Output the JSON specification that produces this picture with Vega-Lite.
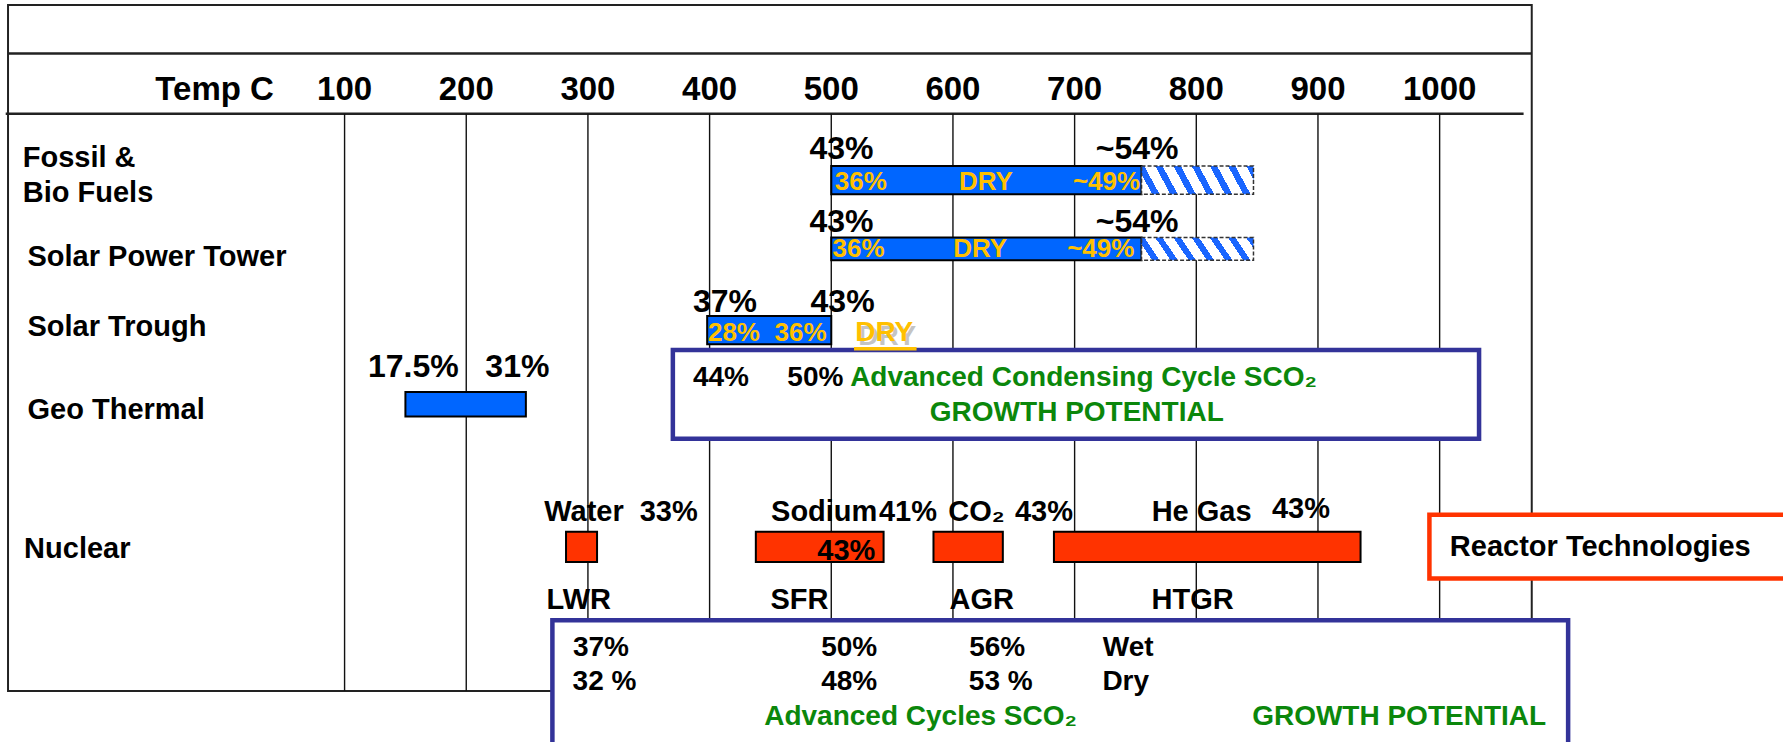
{
  "$schema": "https://vega.github.io/schema/vega-lite/v6.json",
  "width": 1783,
  "height": 742,
  "autosize": {"type": "fit", "contains": "padding"},
  "padding": 0,
  "background": "white",
  "config": {"view": {"stroke": null}},
  "datasets": {
    "frame": [{"temp": -176.6, "temp2": 1075.7, "row": -1.363, "row2": 7.923}],
    "hlines": [
      {"temp": -176.6, "temp2": 1075.7, "row": -0.708},
      {"temp": -178.5, "temp2": 1069, "row": 0.108}
    ],
    "grid": [
      {"temp": 100, "row": 0.108, "row2": 7.923},
      {"temp": 200, "row": 0.108, "row2": 7.923},
      {"temp": 300, "row": 0.108, "row2": 7.923},
      {"temp": 400, "row": 0.108, "row2": 7.923},
      {"temp": 500, "row": 0.108, "row2": 7.923},
      {"temp": 600, "row": 0.108, "row2": 7.923},
      {"temp": 700, "row": 0.108, "row2": 7.923},
      {"temp": 800, "row": 0.108, "row2": 7.923},
      {"temp": 900, "row": 0.108, "row2": 7.923},
      {"temp": 1000, "row": 0.108, "row2": 7.923}
    ],
    "bars": [
      {"source": "Fossil & Bio Fuels", "group": "Thermal", "temp": 500, "temp2": 755, "row": 0.815, "row2": 1.2},
      {"source": "Solar Power Tower", "group": "Thermal", "temp": 500, "temp2": 755, "row": 1.785, "row2": 2.092},
      {"source": "Solar Trough", "group": "Thermal", "temp": 398, "temp2": 500, "row": 2.846, "row2": 3.231},
      {"source": "Geo Thermal", "group": "Thermal", "temp": 150, "temp2": 249, "row": 3.877, "row2": 4.208},
      {"source": "LWR", "group": "Nuclear", "temp": 282, "temp2": 307.5, "row": 5.769, "row2": 6.177},
      {"source": "SFR", "group": "Nuclear", "temp": 438, "temp2": 543, "row": 5.769, "row2": 6.177},
      {"source": "AGR", "group": "Nuclear", "temp": 584, "temp2": 641, "row": 5.769, "row2": 6.177},
      {"source": "HTGR", "group": "Nuclear", "temp": 683, "temp2": 935, "row": 5.769, "row2": 6.177}
    ],
    "growth": [
      {"source": "Fossil & Bio Fuels", "temp": 755, "temp2": 847, "row": 0.815, "row2": 1.2},
      {"source": "Solar Power Tower", "temp": 755, "temp2": 847, "row": 1.785, "row2": 2.092}
    ],
    "boxes": [
      {"kind": "sco2", "temp": 369.8, "temp2": 1032.4, "row": 3.308, "row2": 4.508},
      {"kind": "sco2", "temp": 270.8, "temp2": 1105.6, "row": 6.966, "row2": 9.5},
      {"kind": "reactor", "temp": 991.6, "temp2": 1330, "row": 5.538, "row2": 6.4}
    ],
    "ticks": [
      {"label": "Temp C", "temp": -6.8, "row": -0.215},
      {"label": "100", "temp": 100, "row": -0.215},
      {"label": "200", "temp": 200, "row": -0.215},
      {"label": "300", "temp": 300, "row": -0.215},
      {"label": "400", "temp": 400, "row": -0.215},
      {"label": "500", "temp": 500, "row": -0.215},
      {"label": "600", "temp": 600, "row": -0.215},
      {"label": "700", "temp": 700, "row": -0.215},
      {"label": "800", "temp": 800, "row": -0.215},
      {"label": "900", "temp": 900, "row": -0.215},
      {"label": "1000", "temp": 1000, "row": -0.215}
    ],
    "rowLabels": [
      {"label": "Fossil &", "temp": -164.5, "row": 0.708},
      {"label": "Bio Fuels", "temp": -164.5, "row": 1.18},
      {"label": "Solar Power Tower", "temp": -160.6, "row": 2.053},
      {"label": "Solar Trough", "temp": -160.6, "row": 3.0},
      {"label": "Geo Thermal", "temp": -160.6, "row": 4.117},
      {"label": "Nuclear", "temp": -163.4, "row": 5.997}
    ],
    "pcts": [
      {"label": "43%", "temp": 508.4, "row": 0.585},
      {"label": "~54%", "temp": 751.4, "row": 0.585},
      {"label": "43%", "temp": 508.4, "row": 1.58},
      {"label": "~54%", "temp": 751.4, "row": 1.58},
      {"label": "37%", "temp": 412.6, "row": 2.655},
      {"label": "43%", "temp": 509.3, "row": 2.655},
      {"label": "17.5%", "temp": 156.5, "row": 3.534},
      {"label": "31%", "temp": 242, "row": 3.534}
    ],
    "inbar": [
      {"label": "36%", "temp": 524.3, "row": 1.031},
      {"label": "DRY", "temp": 627.1, "row": 1.031},
      {"label": "~49%", "temp": 726.2, "row": 1.031},
      {"label": "36%", "temp": 522.4, "row": 1.938},
      {"label": "DRY", "temp": 622.4, "row": 1.938},
      {"label": "~49%", "temp": 721.5, "row": 1.938},
      {"label": "28%", "temp": 420, "row": 3.077},
      {"label": "36%", "temp": 474.8, "row": 3.077}
    ],
    "dry": [{"label": "DRY", "temp": 543.5, "row": 3.077}],
    "dryline": [{"temp": 518.7, "temp2": 570.1, "row": 3.292}],
    "boxNums": [
      {"label": "44%", "temp": 409.3, "row": 3.685},
      {"label": "50%", "temp": 486.9, "row": 3.685},
      {"label": "37%", "temp": 310.7, "row": 7.338},
      {"label": "32 %", "temp": 313.6, "row": 7.8},
      {"label": "50%", "temp": 514.7, "row": 7.338},
      {"label": "48%", "temp": 514.7, "row": 7.8},
      {"label": "56%", "temp": 636.4, "row": 7.338},
      {"label": "53 %", "temp": 639.3, "row": 7.8},
      {"label": "Wet", "temp": 744, "row": 7.338},
      {"label": "Dry", "temp": 742, "row": 7.8}
    ],
    "green": [
      {"label": "Advanced Condensing Cycle SCO₂", "temp": 707.3, "row": 3.692},
      {"label": "GROWTH POTENTIAL", "temp": 701.8, "row": 4.154},
      {"label": "Advanced Cycles SCO₂", "temp": 573.4, "row": 8.27},
      {"label": "GROWTH POTENTIAL", "temp": 966.7, "row": 8.27}
    ],
    "nuclearLabels": [
      {"label": "Water", "temp": 296.8, "row": 5.505},
      {"label": "33%", "temp": 366.4, "row": 5.505},
      {"label": "Sodium", "temp": 494.2, "row": 5.505},
      {"label": "41%", "temp": 563, "row": 5.505},
      {"label": "CO₂", "temp": 619.4, "row": 5.505},
      {"label": "43%", "temp": 674.8, "row": 5.505},
      {"label": "He Gas", "temp": 804.4, "row": 5.505},
      {"label": "43%", "temp": 886, "row": 5.455},
      {"label": "43%", "temp": 512.4, "row": 6.034},
      {"label": "LWR", "temp": 292.5, "row": 6.686},
      {"label": "SFR", "temp": 473.8, "row": 6.686},
      {"label": "AGR", "temp": 623.7, "row": 6.686},
      {"label": "HTGR", "temp": 797, "row": 6.686}
    ],
    "reactor": [{"label": "Reactor Technologies", "temp": 1008.4, "row": 5.977}]
  },
  "encoding": {
    "x": {"field": "temp", "type": "quantitative", "scale": {"domain": [-183.2, 1282.2], "nice": false, "zero": false}, "axis": null},
    "y": {"field": "row", "type": "quantitative", "scale": {"domain": [-1.431, 8.615], "nice": false, "zero": false, "reverse": true}, "axis": null}
  },
  "layer": [
    {
      "data": {"name": "frame"},
      "mark": {"type": "rect", "fillOpacity": 0, "stroke": "#222222", "strokeWidth": 2},
      "encoding": {"x2": {"field": "temp2"}, "y2": {"field": "row2"}}
    },
    {
      "data": {"name": "hlines"},
      "mark": {"type": "rule", "color": "#222222", "strokeWidth": 2.5},
      "encoding": {"x2": {"field": "temp2"}}
    },
    {
      "data": {"name": "grid"},
      "mark": {"type": "rule", "color": "#111111", "strokeWidth": 1.4},
      "encoding": {"y2": {"field": "row2"}}
    },
    {
      "data": {"name": "bars"},
      "mark": {"type": "rect", "stroke": "#000000", "strokeWidth": 2},
      "encoding": {
        "x2": {"field": "temp2"},
        "y2": {"field": "row2"},
        "color": {"field": "group", "type": "nominal", "scale": {"domain": ["Thermal", "Nuclear"], "range": ["#0066ff", "#ff3300"]}, "legend": null}
      }
    },
    {
      "data": {"name": "growth"},
      "mark": {
        "type": "rect",
        "stroke": "#333333",
        "strokeWidth": 1.5,
        "strokeDash": [4, 2],
        "fill": {
          "gradient": "linear",
          "x1": -0.07, "y1": 0.5, "x2": 1.07, "y2": 0.344,
          "stops": [
            {"offset": 0, "color": "#ffffff"},
            {"offset": 0.084, "color": "#ffffff"},
            {"offset": 0.084, "color": "#1a66ff"},
            {"offset": 0.14, "color": "#1a66ff"},
            {"offset": 0.14, "color": "#ffffff"},
            {"offset": 0.224, "color": "#ffffff"},
            {"offset": 0.224, "color": "#1a66ff"},
            {"offset": 0.28, "color": "#1a66ff"},
            {"offset": 0.28, "color": "#ffffff"},
            {"offset": 0.364, "color": "#ffffff"},
            {"offset": 0.364, "color": "#1a66ff"},
            {"offset": 0.42, "color": "#1a66ff"},
            {"offset": 0.42, "color": "#ffffff"},
            {"offset": 0.504, "color": "#ffffff"},
            {"offset": 0.504, "color": "#1a66ff"},
            {"offset": 0.56, "color": "#1a66ff"},
            {"offset": 0.56, "color": "#ffffff"},
            {"offset": 0.644, "color": "#ffffff"},
            {"offset": 0.644, "color": "#1a66ff"},
            {"offset": 0.7, "color": "#1a66ff"},
            {"offset": 0.7, "color": "#ffffff"},
            {"offset": 0.784, "color": "#ffffff"},
            {"offset": 0.784, "color": "#1a66ff"},
            {"offset": 0.84, "color": "#1a66ff"},
            {"offset": 0.84, "color": "#ffffff"},
            {"offset": 0.924, "color": "#ffffff"},
            {"offset": 0.924, "color": "#1a66ff"},
            {"offset": 0.98, "color": "#1a66ff"},
            {"offset": 0.98, "color": "#ffffff"},
            {"offset": 1, "color": "#ffffff"}
          ]
        }
      },
      "encoding": {"x2": {"field": "temp2"}, "y2": {"field": "row2"}}
    },
    {
      "data": {"name": "boxes"},
      "mark": {"type": "rect", "fill": "#ffffff", "strokeWidth": 4.5, "clip": true},
      "encoding": {
        "x2": {"field": "temp2"},
        "y2": {"field": "row2"},
        "stroke": {"field": "kind", "type": "nominal", "scale": {"domain": ["sco2", "reactor"], "range": ["#333399", "#ff3300"]}, "legend": null}
      }
    },
    {
      "data": {"name": "ticks"},
      "mark": {"type": "text", "font": "Liberation Sans", "fontWeight": "bold", "fontSize": 33, "color": "#000000", "align": "center", "baseline": "middle"},
      "encoding": {"text": {"field": "label"}}
    },
    {
      "data": {"name": "rowLabels"},
      "mark": {"type": "text", "font": "Liberation Sans", "fontWeight": "bold", "fontSize": 29, "color": "#000000", "align": "left", "baseline": "middle"},
      "encoding": {"text": {"field": "label"}}
    },
    {
      "data": {"name": "pcts"},
      "mark": {"type": "text", "font": "Liberation Sans", "fontWeight": "bold", "fontSize": 32, "color": "#000000", "align": "center", "baseline": "middle"},
      "encoding": {"text": {"field": "label"}}
    },
    {
      "data": {"name": "inbar"},
      "mark": {"type": "text", "font": "Liberation Sans", "fontWeight": "bold", "fontSize": 26, "color": "#ffc000", "align": "center", "baseline": "middle"},
      "encoding": {"text": {"field": "label"}}
    },
    {
      "data": {"name": "dry"},
      "mark": {"type": "text", "font": "Liberation Sans", "fontWeight": "bold", "fontSize": 28, "color": "#c4c4c4", "align": "center", "baseline": "middle", "dx": 3, "dy": 4},
      "encoding": {"text": {"field": "label"}}
    },
    {
      "data": {"name": "dry"},
      "mark": {"type": "text", "font": "Liberation Sans", "fontWeight": "bold", "fontSize": 28, "color": "#ffc000", "align": "center", "baseline": "middle"},
      "encoding": {"text": {"field": "label"}}
    },
    {
      "data": {"name": "dryline"},
      "mark": {"type": "rule", "color": "#ffc000", "strokeWidth": 3.5},
      "encoding": {"x2": {"field": "temp2"}}
    },
    {
      "data": {"name": "boxNums"},
      "mark": {"type": "text", "font": "Liberation Sans", "fontWeight": "bold", "fontSize": 28, "color": "#000000", "align": "center", "baseline": "middle"},
      "encoding": {"text": {"field": "label"}}
    },
    {
      "data": {"name": "green"},
      "mark": {"type": "text", "font": "Liberation Sans", "fontWeight": "bold", "fontSize": 28, "color": "#0b870b", "align": "center", "baseline": "middle"},
      "encoding": {"text": {"field": "label"}}
    },
    {
      "data": {"name": "nuclearLabels"},
      "mark": {"type": "text", "font": "Liberation Sans", "fontWeight": "bold", "fontSize": 29, "color": "#000000", "align": "center", "baseline": "middle"},
      "encoding": {"text": {"field": "label"}}
    },
    {
      "data": {"name": "reactor"},
      "mark": {"type": "text", "font": "Liberation Sans", "fontWeight": "bold", "fontSize": 29, "color": "#000000", "align": "left", "baseline": "middle"},
      "encoding": {"text": {"field": "label"}}
    }
  ]
}
